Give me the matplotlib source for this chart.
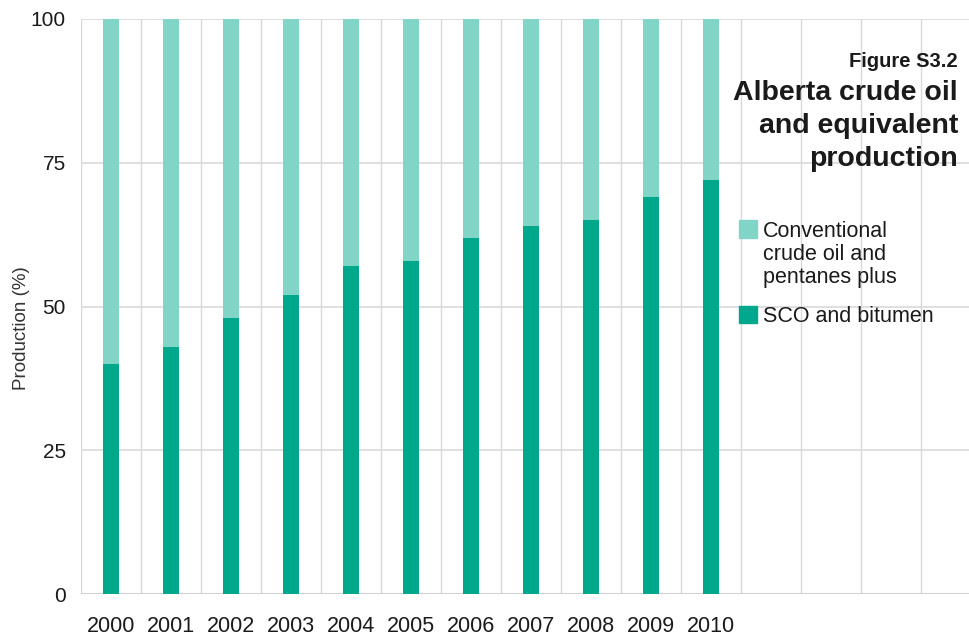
import matplotlib
matplotlib.use("Agg")
import matplotlib.pyplot as plt
from matplotlib import font_manager
from matplotlib.patches import Rectangle

years = ["2000", "2001", "2002", "2003", "2004", "2005",
         "2006", "2007", "2008", "2009", "2010"]
sco_bitumen = [40, 43, 48, 52, 57, 58, 62, 64, 65, 69, 72]
conventional = [100 - v for v in sco_bitumen]
y_ticks = [0, 25, 50, 75, 100]
title_lines = ["Alberta crude oil", "and equivalent", "production"]
legend_lines = ["Conventional", "crude oil and", "pentanes plus"]

dark = "#00a88b"
light = "#80d5c7"
grid_c = "#d9d9d9"
text_c = "#1a1a1a"

names = {f.name for f in font_manager.fontManager.ttflist}
base = "Liberation Sans" if "Liberation Sans" in names else "DejaVu Sans"
plt.rcParams["font.family"] = [base, "DejaVu Sans"]

W, H = 969, 638
fig = plt.figure(figsize=(W / 100, H / 100), dpi=100)
ax_l, ax_r, ax_t, ax_b = 81, 969, 19, 594
ax = fig.add_axes([ax_l / W, 1 - ax_b / H, (ax_r - ax_l) / W, (ax_b - ax_t) / H])

x = list(range(len(years)))
ax.bar(x, sco_bitumen, width=0.27, color=dark, zorder=3)
ax.bar(x, conventional, width=0.27, bottom=sco_bitumen, color=light, zorder=3)

slot = 60.0
n_slots = (ax_r - ax_l) / slot
ax.set_xlim(-0.5, -0.5 + n_slots)
ax.set_ylim(0, 100)

for b in range(0, 15):
    ax.axvline(b - 0.5, color=grid_c, lw=1.0, zorder=1)
for t in y_ticks:
    ax.axhline(t, color=grid_c if t else "#c8c8c8", lw=1.2, zorder=1)

ax.set_yticks(y_ticks)
ax.set_yticklabels([str(t) for t in y_ticks], fontsize=15, color=text_c)
ax.set_xticks(x)
ax.set_xticklabels(years, fontsize=15.5, color=text_c)
ax.tick_params(axis="both", length=0)
ax.tick_params(axis="y", pad=11)
ax.tick_params(axis="x", pad=16)
for s in ax.spines.values():
    s.set_visible(False)

def px(xp, yp):
    return xp / W, 1 - yp / H

fig.text(*px(22, 328), "Production (%)", rotation=90, fontsize=13.5,
         color="#333333", ha="center", va="center")

fig.text(*px(958, 67), "Figure S3.2", fontsize=14.5, fontweight="bold",
         color=text_c, ha="right", va="baseline")
for i, line in enumerate(title_lines):
    fig.text(*px(958, 100 + 33 * i), line, fontsize=20.5, fontweight="bold",
             color=text_c, ha="right", va="baseline")

# legend drawn as figure patches + text
fig.patches.append(Rectangle(px(739, 238), 18 / W, 18 / H,
                             transform=fig.transFigure, color=light))
fig.patches.append(Rectangle(px(739, 323), 18 / W, 17 / H,
                             transform=fig.transFigure, color=dark))
for i, line in enumerate(legend_lines):
    fig.text(*px(763, 237 + 23 * i), line, fontsize=15.5, color=text_c,
             ha="left", va="baseline")
fig.text(*px(763, 322), "SCO and bitumen", fontsize=15.5, color=text_c,
         ha="left", va="baseline")

fig.savefig("out.png", dpi=100)
